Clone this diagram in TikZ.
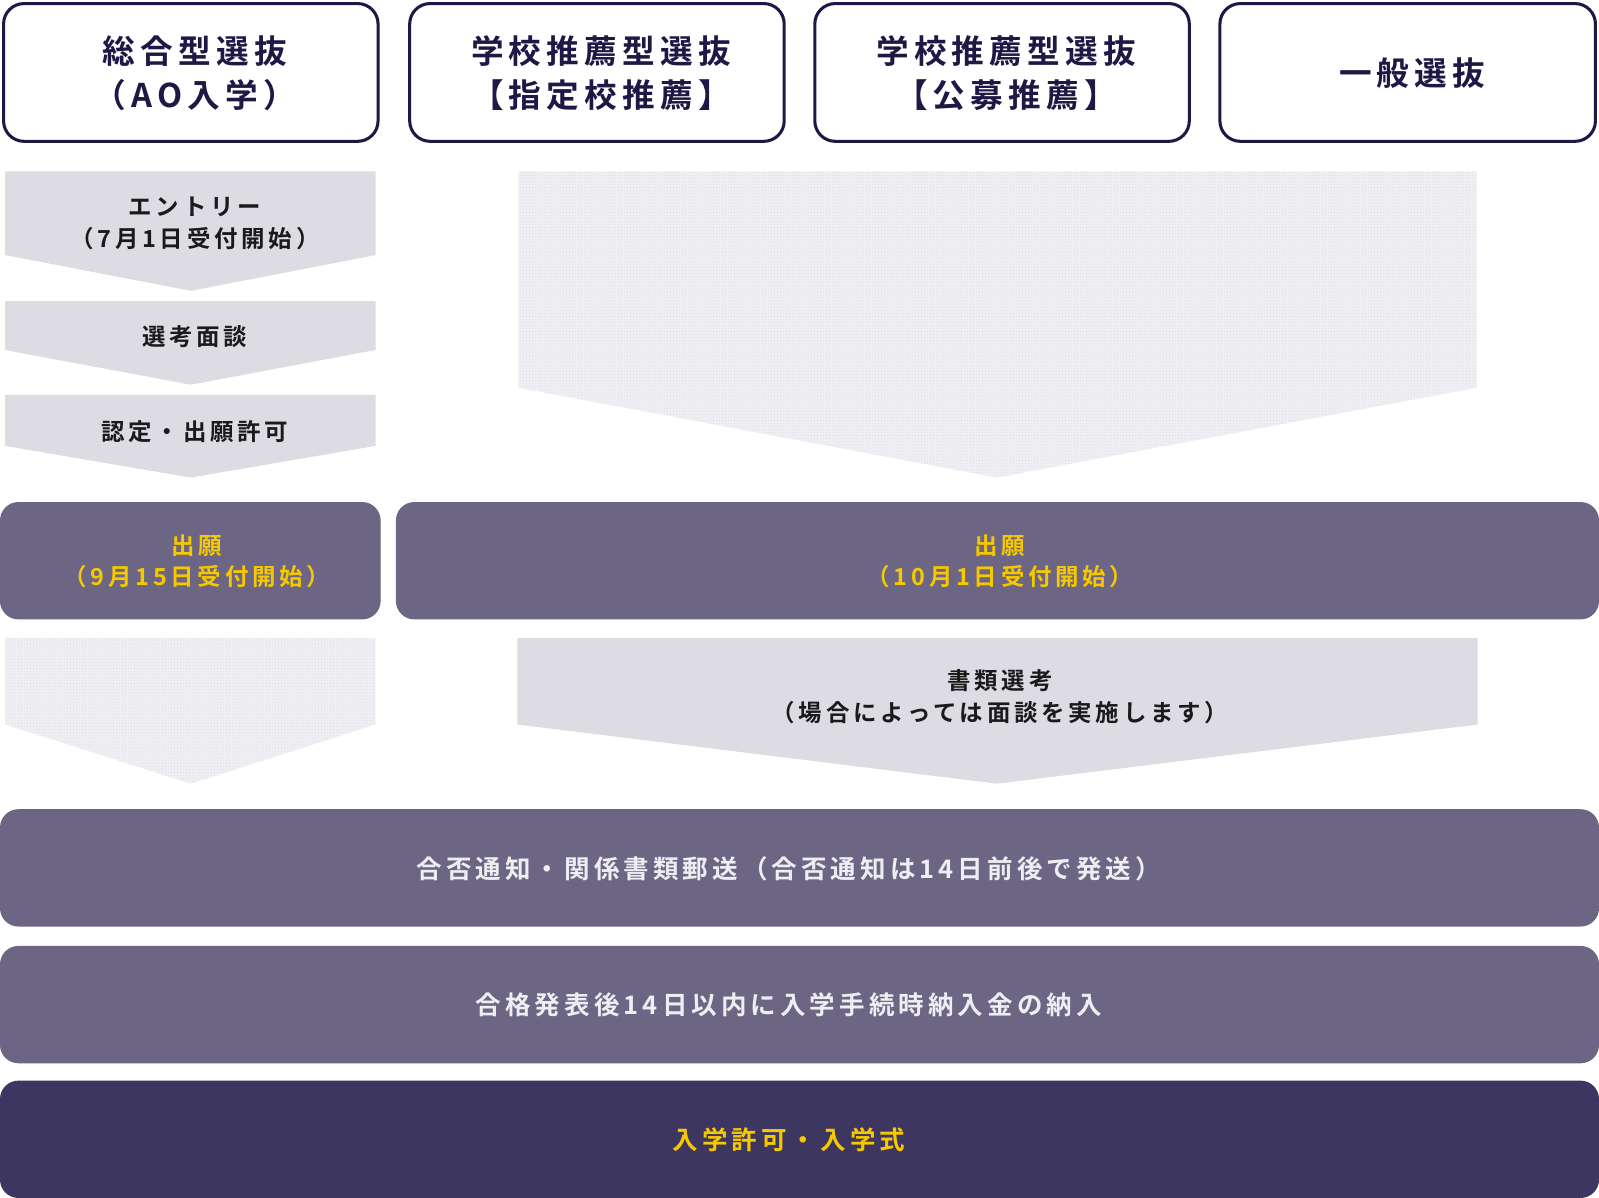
\documentclass[tikz,border=0pt]{standalone}
\usepackage{fontspec}
\setmainfont{Noto Sans CJK JP}
\newfontfamily\jpb{Noto Sans CJK JP Bold}[LetterSpace=16]
\usetikzlibrary{patterns}
\definecolor{navy}{HTML}{1F1845}
\definecolor{barc}{HTML}{6C6584}
\definecolor{darkbar}{HTML}{3D3660}
\definecolor{chev}{HTML}{DDDCE2}
\definecolor{dotbg}{HTML}{EFEEF3}
\definecolor{dotc}{HTML}{DCDBE3}
\definecolor{ink}{HTML}{1A1A1A}
\definecolor{ylw}{HTML}{F5C800}
\definecolor{lighttxt}{HTML}{EEEDF2}
\tikzset{
  x=1pt, y=-1pt,
  headbox/.style={draw=navy, line width=3pt, fill=white, rounded corners=20pt},
  headtxt/.style={text=navy, font=\jpb\fontsize{32}{43}\selectfont, align=center, inner sep=0pt},
  chevfill/.style={fill=chev},
  dotfill/.style={fill=dotbg, postaction={pattern=dots, pattern color=dotc}},
  chevtxt/.style={text=ink, font=\jpb\fontsize{23}{31}\selectfont, align=center, inner sep=0pt},
  barbox/.style={fill=barc, rounded corners=18pt},
  darkbox/.style={fill=darkbar, rounded corners=18pt},
  apptxt/.style={font=\jpb\fontsize{23}{30}\selectfont, align=center, inner sep=0pt},
  bartxt/.style={font=\jpb\fontsize{25}{30}\selectfont, align=center, inner sep=0pt},
}
\begin{document}
\begin{tikzpicture}
\useasboundingbox (0,0) rectangle (1567,1174);
% header boxes
\draw[headbox] (3.5,3.5) rectangle (370.5,138.5);
\draw[headbox] (401.5,3.5) rectangle (768.5,138.5);
\draw[headbox] (798.5,3.5) rectangle (1165.5,138.5);
\draw[headbox] (1195.5,3.5) rectangle (1563.5,138.5);
\node[headtxt] (h1) at (191,72) {総合型選抜\\（AO入学）};
\node[headtxt] (h2) at (589,72) {学校推薦型選抜\\【指定校推薦】};
\node[headtxt] (h3) at (986,72) {学校推薦型選抜\\【公募推薦】};
\node[headtxt] (h4) at (1384,72) {一般選抜};
% left chevrons
\path[chevfill] (5,168) -- (368,168) -- (368,250) -- (187,285) -- (5,250) -- cycle;
\node[chevtxt] (c1) at (191,219) {エントリー\\（7月1日受付開始）};
\path[chevfill] (5,295) -- (368,295) -- (368,343) -- (187,377) -- (5,343) -- cycle;
\node[chevtxt] (c2) at (191,330) {選考面談};
\path[chevfill] (5,387) -- (368,387) -- (368,437) -- (187,468) -- (5,437) -- cycle;
\node[chevtxt] (c3) at (191,423) {認定・出願許可};
% big dotted chevron
\path[dotfill] (508,168) -- (1447,168) -- (1447,380) -- (977,468) -- (508,380) -- cycle;
% application boxes
\path[barbox] (0,492) rectangle (373,607);
\node[apptxt, text=ylw] (a1) at (193,550) {出願\\（9月15日受付開始）};
\path[barbox] (388,492) rectangle (1567,607);
\node[apptxt, text=ylw] (a2) at (980,550) {出願\\（10月1日受付開始）};
% second row chevrons
\path[dotfill] (5,625) -- (368,625) -- (368,710) -- (187,768) -- (5,710) -- cycle;
\path[chevfill] (507,625) -- (1448,625) -- (1448,710) -- (977,768) -- (507,710) -- cycle;
\node[chevtxt] (c4) at (980,683) {書類選考\\（場合によっては面談を実施します）};
% bottom bars
\path[barbox] (0,793) rectangle (1567,908);
\node[bartxt, text=lighttxt] (b1) at (773,851) {合否通知・関係書類郵送（合否通知は14日前後で発送）};
\path[barbox] (0,927) rectangle (1567,1042);
\node[bartxt, text=lighttxt] (b2) at (773,985) {合格発表後14日以内に入学手続時納入金の納入};
\path[darkbox] (0,1059) rectangle (1567,1174);
\node[bartxt, text=ylw] (b3) at (773,1117) {入学許可・入学式};
\end{tikzpicture}
\end{document}
